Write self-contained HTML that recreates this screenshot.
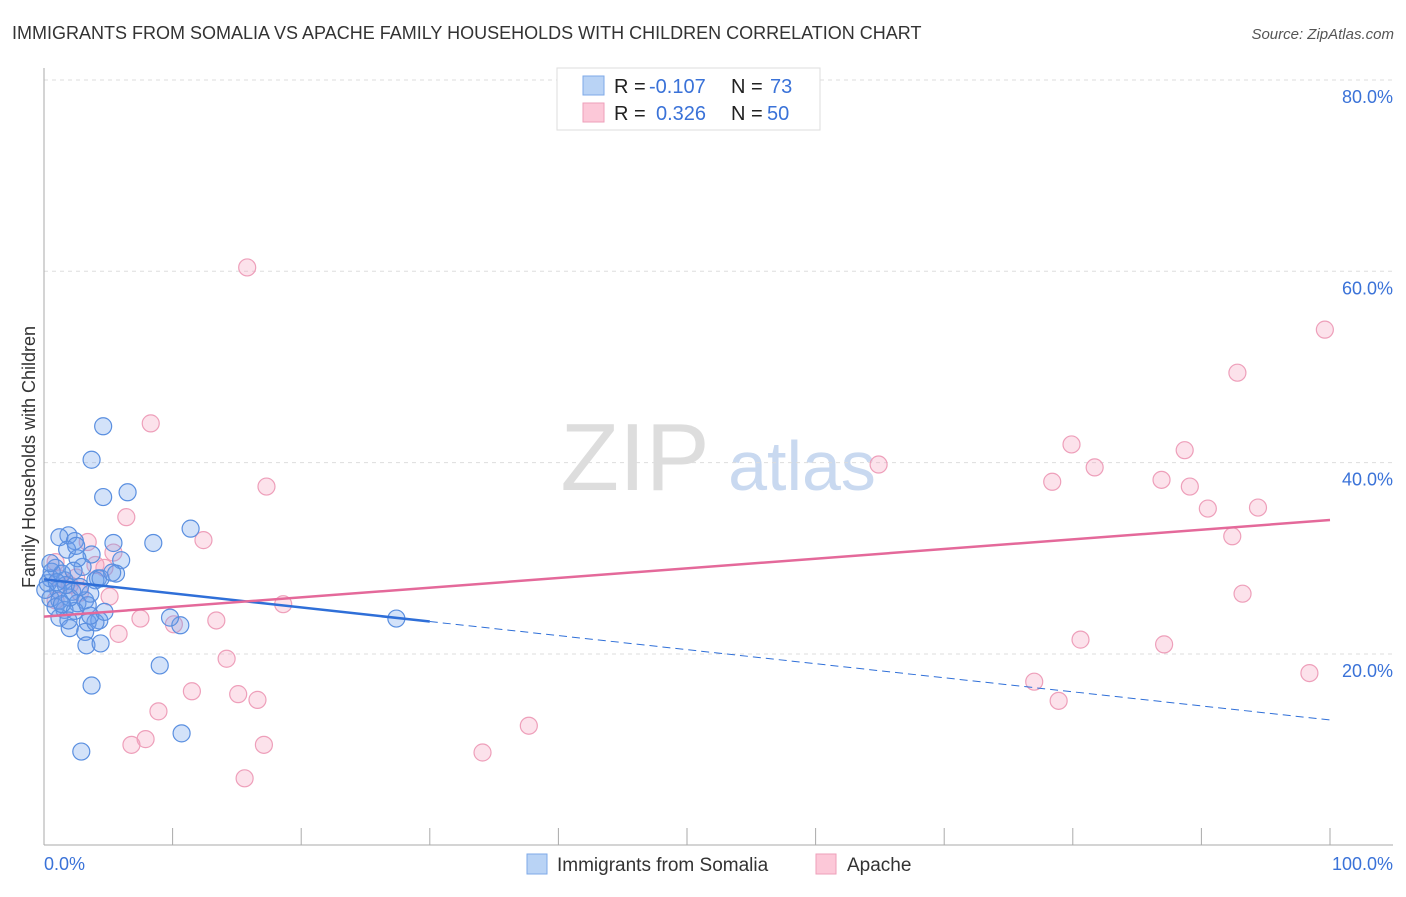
<!DOCTYPE html>
<html><head><meta charset="utf-8"><style>
body{margin:0;background:#fff;font-family:"Liberation Sans",sans-serif;}
svg text{font-family:"Liberation Sans",sans-serif;}
</style></head><body>
<svg id="chart" width="1406" height="892" xmlns="http://www.w3.org/2000/svg">
<text x="12" y="39" font-size="18" fill="#333">IMMIGRANTS FROM SOMALIA VS APACHE FAMILY HOUSEHOLDS WITH CHILDREN CORRELATION CHART</text>
<text x="1394" y="39" font-size="15" fill="#555" font-style="italic" text-anchor="end">Source: ZipAtlas.com</text>
<g>
<text x="635" y="490" font-size="96" fill="#ddd" font-family="Liberation Serif" text-anchor="middle">ZIP</text>
<text x="802" y="490" font-size="70" fill="#c9d9f0" text-anchor="middle">atlas</text>
</g>
<g id="grid"></g>
<g id="axes"></g>
<g id="pts"></g>
<g id="trends"></g>
<text x="35" y="457" font-size="18" fill="#333" text-anchor="middle" transform="rotate(-90 35 457)">Family Households with Children</text>
<text x="44" y="870" font-size="18" fill="#3a72d8">0.0%</text>
<text x="1393" y="870" font-size="18" fill="#3a72d8" text-anchor="end">100.0%</text>
<g>
<rect x="557" y="68" width="263" height="62" fill="#fff" stroke="#ddd"/>
<rect x="583" y="76" width="21" height="19" fill="#b9d3f5" stroke="#7ea9e8"/>
<rect x="583" y="103" width="21" height="19" fill="#fcc8d8" stroke="#ee9fba"/>
<text y="93" font-size="20"><tspan x="614" fill="#222">R = </tspan><tspan x="649" fill="#3a72d8">-0.107</tspan><tspan x="731" fill="#222">N = </tspan><tspan x="770" fill="#3a72d8">73</tspan></text>
<text y="120" font-size="20"><tspan x="614" fill="#222">R = </tspan><tspan x="656" fill="#3a72d8">0.326</tspan><tspan x="731" fill="#222">N = </tspan><tspan x="767" fill="#3a72d8">50</tspan></text>
</g>
<g>
<rect x="527" y="854" width="20" height="20" fill="#b9d3f5" stroke="#7ea9e8"/>
<text x="557" y="871" font-size="19" fill="#333">Immigrants from Somalia</text>
<rect x="816" y="854" width="20" height="20" fill="#fcc8d8" stroke="#ee9fba"/>
<text x="847" y="871" font-size="19" fill="#333">Apache</text>
</g>
</svg>
<script>
const yTicks=[20,40,60,80];
const yTickLabels=["20.0%","40.0%","60.0%","80.0%"];
const xTicks=[10,20,30,40,50,60,70,80,90,100];
const somaliaX=[4.6,3.7,4.6,6.5,5.4,8.5,11.4,1.9,1.2,2.4,1.8,3.7,6.0,5.6,4.2,4.0,3.0,2.6,0.9,0.5,1.6,1.1,2.2,0.5,1.2,3.2,3.6,2.6,1.6,2.4,3.4,1.2,4.3,3.4,2.0,3.2,4.0,10.6,9.8,3.3,4.4,9.0,3.7,10.7,2.9,27.4,0.3,0.6,1.4,2.0,0.9,1.7,2.3,4.4,5.3,0.1,0.5,1.0,2.8,3.6,4.7,1.4,2.5,1.9];
const somaliaY=[43.8,40.3,36.4,36.9,31.6,31.6,33.1,32.4,32.2,31.8,30.9,30.4,29.8,28.4,27.9,27.7,29.1,30.0,29.0,27.9,27.7,26.7,26.5,25.8,25.6,25.6,26.3,25.3,24.6,24.5,25.1,23.8,23.5,23.3,22.7,22.3,23.3,23.0,23.8,20.9,21.1,18.8,16.7,11.7,9.8,23.7,27.4,28.6,28.4,25.9,24.9,27.2,28.7,27.9,28.5,26.7,29.5,27.5,27.0,24.0,24.4,25.2,31.3,23.5];
const apacheX=[15.8,8.3,17.3,6.4,12.4,5.4,3.4,0.9,4.7,2.5,5.1,18.6,7.5,13.4,10.1,5.8,14.2,11.5,15.1,16.6,8.9,7.9,6.8,17.1,15.6,37.7,34.1,64.9,99.6,92.8,79.9,81.7,88.7,78.4,86.9,89.1,90.5,94.4,92.4,93.2,80.6,87.1,77.0,78.9,98.4,1.2,0.9,2.8,4.0,2.0];
const apacheY=[60.4,44.1,37.5,34.3,31.9,30.6,31.7,29.6,29.0,28.0,26.0,25.2,23.7,23.5,23.1,22.1,19.5,16.1,15.8,15.2,14.0,11.1,10.5,10.5,7.0,12.5,9.7,39.8,53.9,49.4,41.9,39.5,41.3,38.0,38.2,37.5,35.2,35.3,32.3,26.3,21.5,21.0,17.1,15.1,18.0,27.9,25.6,26.4,29.3,27.2];
const somaliaTrend=[27.8,13.1];
const apacheTrend=[23.9,34.0];
const NS="http://www.w3.org/2000/svg";
const X=v=>44+v*12.86, Y=v=>845.3-v*9.567;
function mk(tag,attrs,parent){const e=document.createElementNS(NS,tag);for(const k in attrs)e.setAttribute(k,attrs[k]);parent.appendChild(e);return e;}
const grid=document.getElementById('grid'),axes=document.getElementById('axes'),pts=document.getElementById('pts'),tr=document.getElementById('trends');
yTicks.forEach((t,i)=>{
 const l=mk('line',{x1:44,x2:1393,y1:Y(t),y2:Y(t),stroke:'#ddd','stroke-dasharray':'4,4'},grid);
 
 
 const tx=mk('text',{x:1393,y:Y(t)+23,'font-size':18,fill:'#3a72d8','text-anchor':'end'},grid);
 tx.textContent=yTickLabels[i];
 
 
});
const ya=mk('line',{x1:44,x2:44,y1:68,y2:845,stroke:'#aaa'},axes);


const xa=mk('line',{x1:44,x2:1393,y1:845,y2:845,stroke:'#aaa'},axes);


xTicks.forEach(t=>{
 const l=mk('line',{x1:X(t),x2:X(t),y1:828,y2:845,stroke:'#aaa'},axes);
 
 
});
apacheX.forEach((v,i)=>{
 const c=mk('circle',{cx:X(v),cy:Y(apacheY[i]),r:8.5,fill:'rgba(245,160,190,0.3)',stroke:'#ee9fba','stroke-width':1.2},pts);
 
 
});
somaliaX.forEach((v,i)=>{
 const c=mk('circle',{cx:X(v),cy:Y(somaliaY[i]),r:8.5,fill:'rgba(110,160,235,0.3)',stroke:'#5a8fe0','stroke-width':1.2},pts);
 
 
});
const sAt=x=>somaliaTrend[0]+(somaliaTrend[1]-somaliaTrend[0])*x/100;
const s1=mk('line',{x1:X(0),y1:Y(sAt(0)),x2:X(30),y2:Y(sAt(30)),stroke:'#2f6fd8','stroke-width':2.5},tr);


const s2=mk('line',{x1:X(30),y1:Y(sAt(30)),x2:X(100),y2:Y(sAt(100)),stroke:'#2f6fd8','stroke-width':1,'stroke-dasharray':'8,5'},tr);


const p1=mk('line',{x1:X(0),y1:Y(apacheTrend[0]),x2:X(100),y2:Y(apacheTrend[1]),stroke:'#e4699a','stroke-width':2.5},tr);


</script>
</body></html>
